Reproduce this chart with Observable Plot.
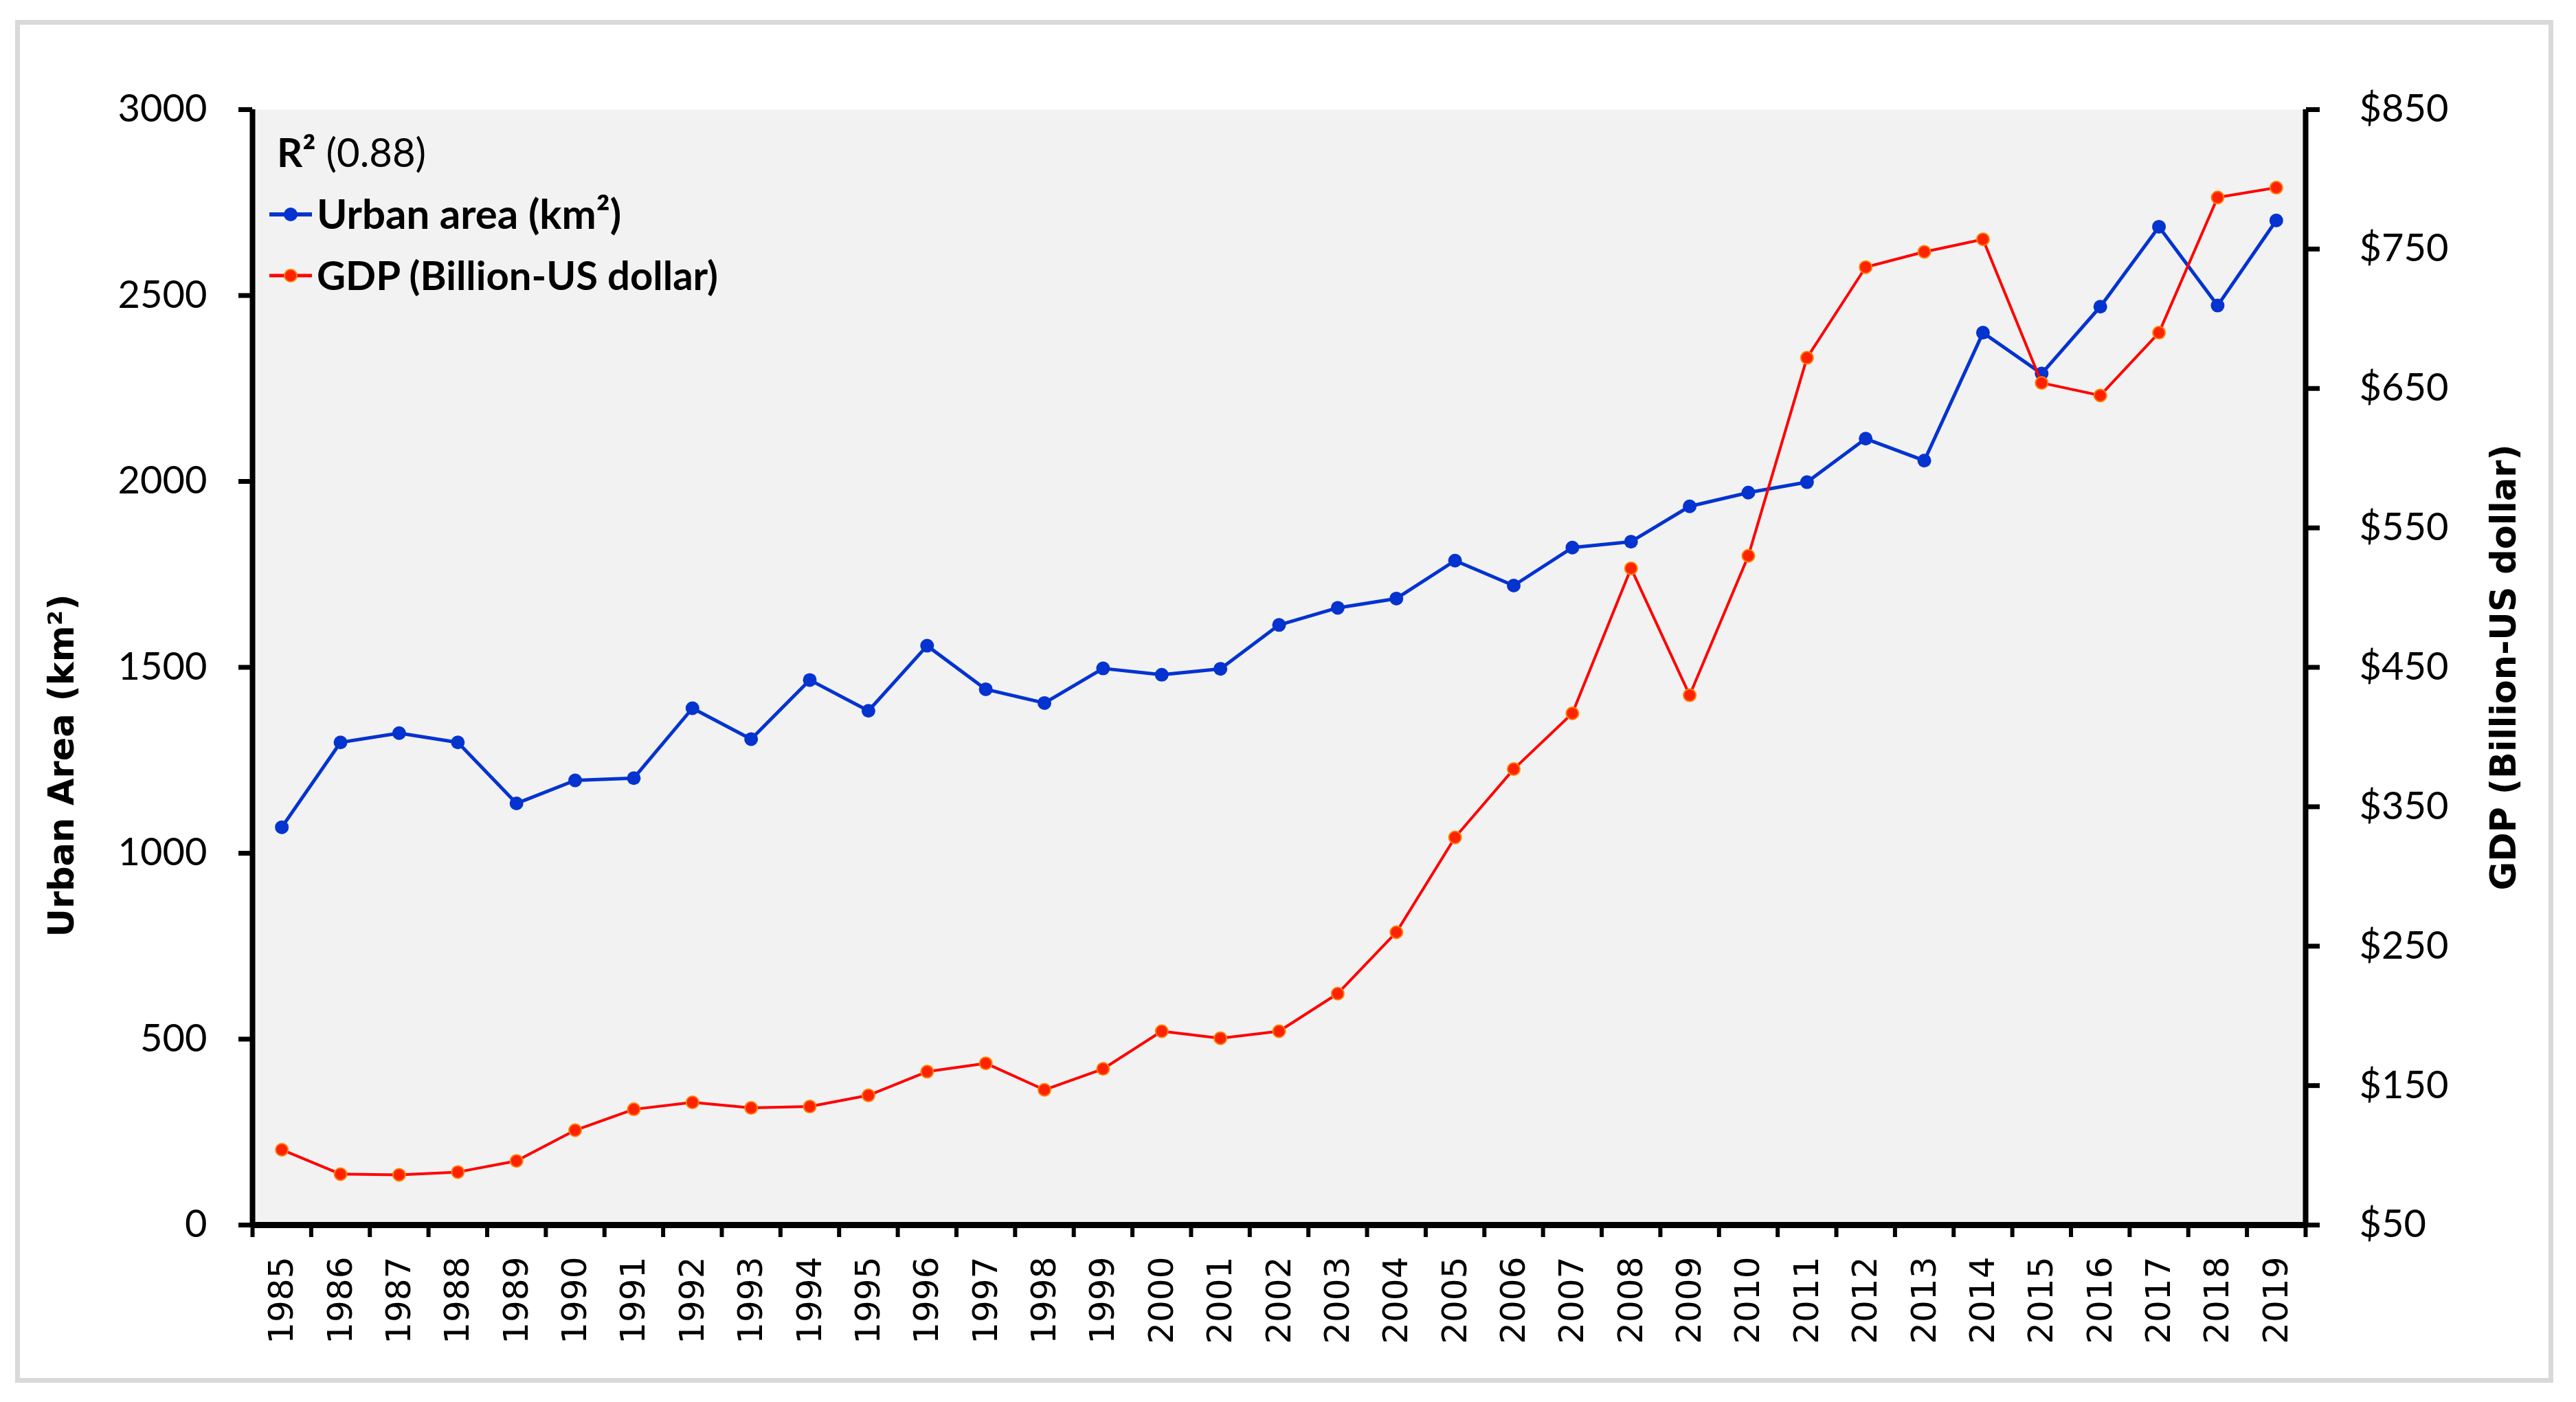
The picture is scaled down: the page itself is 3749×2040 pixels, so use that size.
<!DOCTYPE html>
<html>
<head>
<meta charset="utf-8">
<script src="https://cdn.jsdelivr.net/npm/d3@7"></script>
<script src="https://cdn.jsdelivr.net/npm/@observablehq/plot@0.6"></script>
<style>
html, body { margin: 0; padding: 0; background: #fff; }
#wrap { position: relative; width: 3749px; height: 2040px; overflow: hidden; }
#border { position: absolute; left: 22px; top: 29px; width: 3694px; height: 1983px; border: 7px solid #d9d9d9; box-sizing: border-box; pointer-events: none; }
.leg { position: absolute; font-family: Lato, "Open Sans", sans-serif; font-size: 60px; line-height: 60px; color: #000; white-space: nowrap; }
.sw { position: absolute; }
</style>
</head>
<body>
<div id="wrap">
  <div id="chart"></div>
  <div id="border"></div>
  <div class="leg" style="left:403px;top:192px;font-size:58px;line-height:58px;"><b>R²</b> (0.88)</div>
  <svg class="sw" style="left:388px;top:292px;" width="70" height="40"><line x1="4" y1="20" x2="66" y2="20" stroke="#0433d0" stroke-width="6"/><circle cx="35" cy="20" r="10" fill="#0433d0"/></svg>
  <div class="leg" style="left:461px;top:280px;font-weight:bold;">Urban area (km²)</div>
  <svg class="sw" style="left:388px;top:381px;" width="70" height="40"><line x1="4" y1="20" x2="66" y2="20" stroke="#ff0000" stroke-width="5"/><circle cx="35" cy="20" r="9" fill="#ff2200" stroke="#ff8000" stroke-width="2"/></svg>
  <div class="leg" style="left:461px;top:371px;font-weight:bold;font-size:58px;line-height:58px;">GDP (Billion-US dollar)</div>
</div>
<script>
// ---- data ----
const years = [1985,1986,1987,1988,1989,1990,1991,1992,1993,1994,1995,1996,1997,1998,1999,2000,2001,2002,2003,2004,2005,2006,2007,2008,2009,2010,2011,2012,2013,2014,2015,2016,2017,2018,2019];
const urbanArea = [1070,1298,1323,1298,1134,1196,1202,1390,1307,1466,1383,1558,1441,1404,1497,1480,1496,1614,1660,1685,1787,1720,1822,1838,1933,1970,1998,2115,2056,2400,2290,2470,2685,2473,2702];
const gdp = [104,86.5,86,88,96,118,133,138,134,135,143,160,166,147,162,189,184,189,216,260,328,377,417,521,430,530,672,737,748,757,654,645,690,787,794];
const urbanTicks = [0,500,1000,1500,2000,2500,3000];
const gdpTicks = [50,150,250,350,450,550,650,750,850];
const urbanDomain = [0, 3000];
const gdpDomain = [50, 850];

const toLeft = g => (g - gdpDomain[0]) * (urbanDomain[1] - urbanDomain[0]) / (gdpDomain[1] - gdpDomain[0]) + urbanDomain[0];
const fromLeft = v => (v - urbanDomain[0]) * (gdpDomain[1] - gdpDomain[0]) / (urbanDomain[1] - urbanDomain[0]) + gdpDomain[0];

const data = years.map((y, i) => ({year: y, urban: urbanArea[i], gdp: gdp[i]}));
const xLo = years[0] - 0.5, xHi = years[years.length - 1] + 0.5;
const boundaries = years.map(y => y - 0.5).concat([xHi]);

const blue = "#0433d0";
const chart = Plot.plot({
  width: 3749,
  height: 2040,
  marginLeft: 367,
  marginRight: 394,
  marginTop: 159,
  marginBottom: 258,
  style: {background: "transparent", fontFamily: "Lato, 'Open Sans', sans-serif", fontSize: "56px", color: "#000"},
  x: {domain: [xLo, xHi], axis: null},
  y: {domain: urbanDomain, axis: null},
  marks: [
    Plot.frame({fill: "#f2f2f2", stroke: null}),
    Plot.axisY({anchor: "left", label: null, ticks: urbanTicks, tickSize: 20, tickPadding: 46, strokeWidth: 7, tickFormat: d => String(d), fontSize: 56, fontFamily: "Lato"}),
    Plot.axisY({anchor: "right", label: null, ticks: gdpTicks.map(toLeft), tickSize: 20, tickPadding: 58, strokeWidth: 7, tickFormat: d => "$" + Math.round(fromLeft(d)), fontSize: 56, fontFamily: "Lato"}),
    Plot.axisX({anchor: "bottom", label: null, ticks: boundaries, tickSize: 18, strokeWidth: 6, tickFormat: () => ""}),
    Plot.axisX({anchor: "bottom", label: null, ticks: years, tickSize: 0, tickPadding: 46, tickRotate: -90, tickFormat: d => String(d), fontSize: 50, fontFamily: "DejaVu Sans"}),
    Plot.ruleY([urbanDomain[0]], {stroke: "#000", strokeWidth: 9}),
    Plot.ruleX([xLo, xHi], {stroke: "#000", strokeWidth: 8}),
    Plot.line(data, {x: "year", y: "urban", stroke: blue, strokeWidth: 5}),
    Plot.dot(data, {x: "year", y: "urban", r: 10, fill: blue, stroke: "none"}),
    Plot.line(data, {x: "year", y: d => toLeft(d.gdp), stroke: "#ff0000", strokeWidth: 4}),
    Plot.dot(data, {x: "year", y: d => toLeft(d.gdp), r: 9, fill: "#ff2200", stroke: "#ff8000", strokeWidth: 2}),
    Plot.text(["Urban Area (km²)"], {text: d => d, frameAnchor: "left", textAnchor: "middle", dx: -277, dy: 143, rotate: -90, fontFamily: "DejaVu Sans", fontWeight: "bold", fontSize: 51, fill: "#000"}),
    Plot.text(["GDP (Billion-US dollar)"], {text: d => d, frameAnchor: "right", textAnchor: "middle", dx: 289, dy: 0, rotate: -90, fontFamily: "DejaVu Sans", fontWeight: "bold", fontSize: 51, fill: "#000"})
  ]
});
document.getElementById("chart").appendChild(chart);
</script>
</body>
</html>
